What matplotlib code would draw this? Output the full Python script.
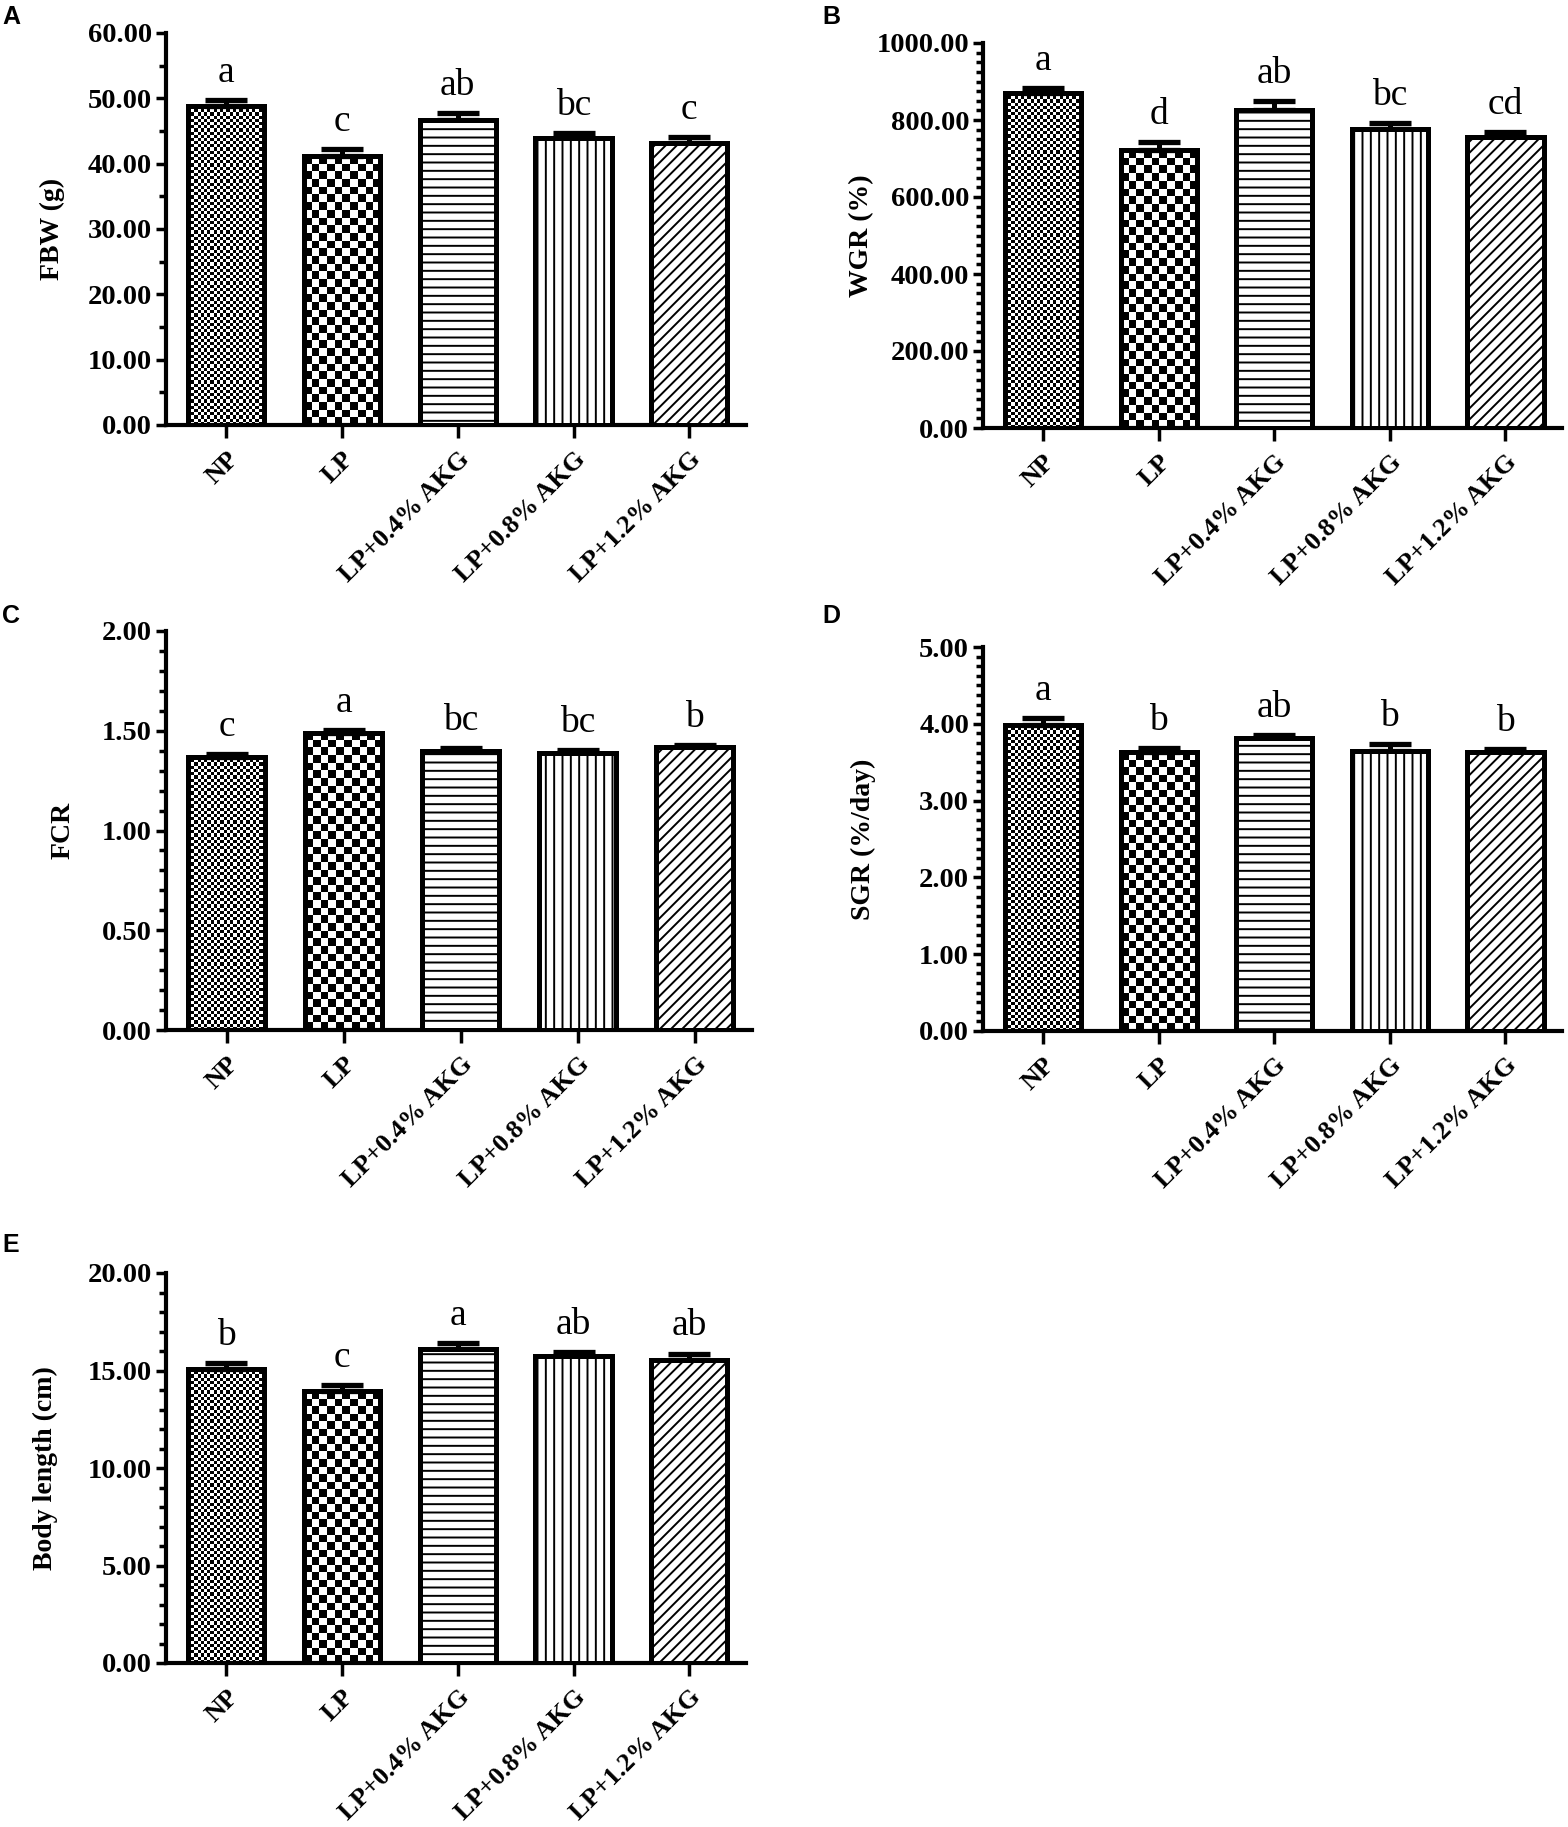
import numpy as np
import matplotlib
matplotlib.use("Agg")
import matplotlib.pyplot as plt
from matplotlib.ticker import MultipleLocator, FormatStrFormatter

groups = ["NP", "LP", "LP+0.4% AKG", "LP+0.8% AKG", "LP+1.2% AKG"]

fbw = [48.8, 41.1, 46.7, 43.9, 43.2]
fbw_err = [1.0, 1.2, 1.0, 0.8, 0.9]
fbw_sig = ["a", "c", "ab", "bc", "c"]

wgr = [870, 722, 826, 776, 757]
wgr_err = [13, 20, 23, 16, 11]
wgr_sig = ["a", "d", "ab", "bc", "cd"]

fcr = [1.37, 1.49, 1.40, 1.39, 1.42]
fcr_err = [0.015, 0.015, 0.015, 0.012, 0.01]
fcr_sig = ["c", "a", "bc", "bc", "b"]

sgr = [3.99, 3.63, 3.81, 3.65, 3.63]
sgr_err = [0.09, 0.05, 0.045, 0.09, 0.04]
sgr_sig = ["a", "b", "ab", "b", "b"]

blen = [15.09, 13.93, 16.09, 15.75, 15.56]
blen_err = [0.31, 0.33, 0.33, 0.2, 0.31]
blen_sig = ["b", "c", "a", "ab", "ab"]

plt.rcParams["font.family"] = ["Liberation Serif", "DejaVu Serif"]
plt.rcParams["font.weight"] = "bold"
plt.rcParams["axes.labelweight"] = "bold"
plt.rcParams["hatch.linewidth"] = 1.4

W, H, DPI = 15.68, 18.27, 100
fig = plt.figure(figsize=(W, H), dpi=DPI)

XLIM = (-0.52, 4.49)
BAR_W = 0.66


def px_box(left, top, right, bottom):
    # pixel box -> figure fraction
    return [left / 1568, 1 - bottom / 1827, (right - left) / 1568, (bottom - top) / 1827]


def draw_panel(ax, vals, errs, sig, ylabel, ymax, major, minor, label_x):
    x = np.arange(len(groups))
    ax.set_xlim(*XLIM)
    ax.set_ylim(0, ymax)

    pos = ax.get_position()
    px_x = pos.width * W * DPI / (XLIM[1] - XLIM[0])
    px_y = pos.height * H * DPI / ymax

    faces = ["none", "none", "white", "white", "white"]
    hatches = [None, None, "--", "||", "///"]
    bars = ax.bar(x, vals, BAR_W, color=faces, edgecolor="black",
                  linewidth=3.6, zorder=3)
    for b, h in zip(bars, hatches):
        if h:
            b.set_hatch(h)

    # checkerboard fills for the first two bars
    for i, cells in [(0, 24), (1, 10)]:
        cell = BAR_W * px_x / cells
        ny = max(1, int(round(vals[i] * px_y / cell)))
        board = np.add.outer(np.arange(ny), np.arange(cells)) % 2
        im = ax.imshow(board, cmap="gray", origin="lower", aspect="auto",
                       interpolation="nearest", zorder=2,
                       extent=(x[i] - BAR_W / 2, x[i] + BAR_W / 2, 0, vals[i]))
        im.set_clip_path(bars[i])

    ax.errorbar(x, vals, yerr=[np.zeros(len(vals)), errs], fmt="none",
                ecolor="black", elinewidth=3.6, capsize=15, capthick=3.8,
                zorder=2.8)

    for xi, v, e, t in zip(x, vals, errs, sig):
        ax.annotate(t, (xi, v + e), xytext=(0, 13), textcoords="offset points",
                    ha="center", va="baseline", fontsize=27, fontweight="normal")

    ax.set_xlim(*XLIM)
    ax.set_ylim(0, ymax)
    ax.spines["top"].set_visible(False)
    ax.spines["right"].set_visible(False)
    ax.spines["left"].set_linewidth(3)
    ax.spines["bottom"].set_linewidth(3)

    ax.yaxis.set_major_locator(MultipleLocator(major))
    ax.yaxis.set_minor_locator(MultipleLocator(minor))
    ax.yaxis.set_major_formatter(FormatStrFormatter("%.2f"))
    ax.tick_params(axis="y", which="major", length=7, width=2.5, labelsize=20.5, pad=3)
    ax.tick_params(axis="y", which="minor", length=5, width=2.5)
    ax.set_xticks(x)
    ax.set_xticklabels(groups, rotation=45, ha="right", va="top",
                       rotation_mode="anchor")
    ax.tick_params(axis="x", length=9, width=2.5, labelsize=19, pad=7)

    ax.set_ylabel(ylabel, fontsize=20, va="center")
    ax.yaxis.set_label_coords(label_x, 0.5)


axA = fig.add_axes(px_box(166, 33, 746, 425))
draw_panel(axA, fbw, fbw_err, fbw_sig, "FBW (g)", 60, 10, 5, -0.195)

axB = fig.add_axes(px_box(983, 43, 1562, 428))
draw_panel(axB, wgr, wgr_err, wgr_sig, "WGR (%)", 1000, 200, 25, -0.21)

axC = fig.add_axes(px_box(166, 631, 752, 1030))
draw_panel(axC, fcr, fcr_err, fcr_sig, "FCR", 2.0, 0.5, 0.1, -0.175)

axD = fig.add_axes(px_box(983, 647, 1562, 1031))
draw_panel(axD, sgr, sgr_err, sgr_sig, "SGR (%/day)", 5.0, 1.0, 0.125, -0.207)

axE = fig.add_axes(px_box(166, 1273, 746, 1663))
draw_panel(axE, blen, blen_err, blen_sig, "Body length (cm)", 20, 5, 1, -0.208)

for t, px, py in [("A", 2, 5), ("B", 822, 5), ("C", 2, 604), ("D", 822, 604), ("E", 2, 1233)]:
    fig.text(px / 1568, 1 - py / 1827, t, family="Liberation Sans",
             fontweight="bold", fontsize=18, ha="left", va="top")

fig.savefig("out.png", dpi=DPI)
